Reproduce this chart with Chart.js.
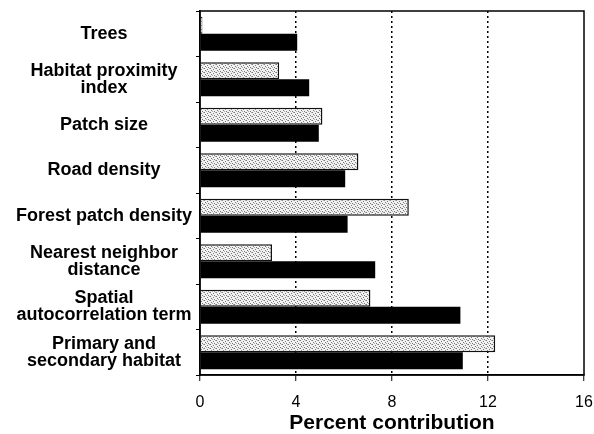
<!DOCTYPE html>
<html>
<head>
<meta charset="utf-8">
<script src="https://cdn.jsdelivr.net/npm/chart.js@4.4.1/dist/chart.umd.min.js"></script>
<style>
  html, body { margin: 0; padding: 0; background: #fff; }
  #wrap { width: 594px; height: 434px; }
</style>
</head>
<body>
<div id="wrap"><canvas id="chart" width="594" height="434"></canvas></div>
<script>
/* data */
const categories = [
  "Trees",
  ["Habitat proximity", "index"],
  "Patch size",
  "Road density",
  "Forest patch density",
  ["Nearest neighbor", "distance"],
  ["Spatial", "autocorrelation term"],
  ["Primary and", "secondary habitat"]
];
const greyValues = [0.1, 3.3, 5.1, 6.6, 8.7, 3.0, 7.1, 12.3];
const blackValues = [4.05, 4.55, 4.95, 6.05, 6.15, 7.3, 10.85, 10.95];
const xTicks = [0, 4, 8, 12, 16];

const FONT = "'Liberation Sans', Arial, sans-serif";

// stippled fill for the light bars
function makeStipple() {
  const c = document.createElement("canvas");
  c.width = 6; c.height = 4;
  const g = c.getContext("2d");
  g.fillStyle = "#f2f2f2";
  g.fillRect(0, 0, 6, 4);
  g.fillStyle = "#777";
  g.fillRect(0, 0, 1, 1);
  g.fillRect(3, 1, 1, 1);
  g.fillRect(1, 2, 1, 1);
  g.fillRect(4, 3, 1, 1);
  g.fillStyle = "#aaa";
  g.fillRect(5, 0, 1, 1);
  g.fillRect(2, 3, 1, 1);
  return g.createPattern(c, "repeat");
}

// box around the plot area
const frame = {
  id: "frame",
  afterDraw(chart) {
    const { ctx, chartArea: a } = chart;
    ctx.save();
    ctx.strokeStyle = "#000";
    ctx.lineWidth = 1.5;
    ctx.strokeRect(a.left, a.top, a.right - a.left, a.bottom - a.top);
    ctx.restore();
  }
};

const ctx = document.getElementById("chart").getContext("2d");
new Chart(ctx, {
  type: "bar",
  data: {
    labels: categories,
    datasets: [
      {
        data: greyValues,
        backgroundColor: makeStipple(),
        borderColor: "#111",
        borderWidth: 1.5,
        borderSkipped: "left"
      },
      {
        data: blackValues,
        backgroundColor: "#000",
        borderWidth: 0
      }
    ]
  },
  options: {
    indexAxis: "y",
    responsive: false,
    animation: false,
    layout: { padding: { top: 11, right: 10, left: 0, bottom: 0 } },
    datasets: { bar: { categoryPercentage: 0.75, barPercentage: 1.0 } },
    plugins: { legend: { display: false }, tooltip: { enabled: false } },
    scales: {
      x: {
        min: 0,
        max: 16,
        afterBuildTicks: (s) => { s.ticks = xTicks.map((v) => ({ value: v })); },
        afterFit: (s) => { s.height = 59; s.paddingLeft = 0; s.paddingRight = 0; },
        grid: {
          color: (c) => (c.tick && (c.tick.value === 0 || c.tick.value === 16) ? "rgba(0,0,0,0)" : "#000"),
          lineWidth: 1.5,
          tickColor: "#000",
          tickLength: 6,
          tickWidth: 1
        },
        border: { display: true, color: "#000", width: 1.5, dash: [2, 3] },
        ticks: {
          color: "#000",
          font: { family: FONT, size: 16, lineHeight: 1 },
          padding: 14,
          maxRotation: 0
        },
        title: {
          display: true,
          text: "Percent contribution",
          color: "#000",
          font: { family: FONT, size: 21, weight: "bold", lineHeight: 1 },
          padding: { top: 0, bottom: 0 }
        }
      },
      y: {
        afterFit: (s) => { s.width = 200; s.paddingTop = 0; s.paddingBottom = 0; },
        grid: {
          drawOnChartArea: false,
          tickColor: "#000",
          tickLength: 4,
          tickWidth: 1
        },
        border: { display: true, color: "#000", width: 1.5 },
        ticks: {
          color: "#000",
          crossAlign: "center",
          padding: 4,
          font: { family: FONT, size: 18, weight: "bold", lineHeight: "17px" }
        }
      }
    }
  },
  plugins: [frame]
});
</script>
</body>
</html>
